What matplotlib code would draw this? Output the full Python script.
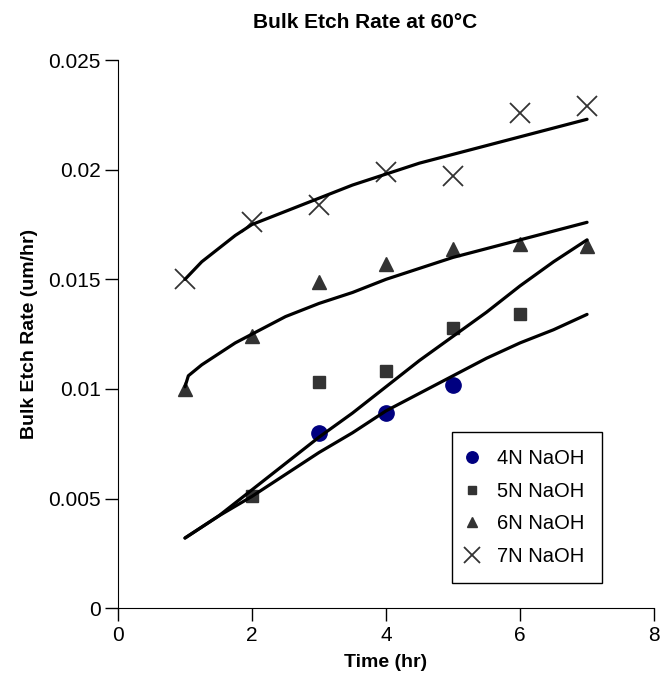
import matplotlib
matplotlib.use("Agg")
import matplotlib.pyplot as plt

plt.rcParams['font.family'] = ['Liberation Sans', 'DejaVu Sans']

# measured points
t4 = [3, 4, 5]
r4 = [0.0080, 0.0089, 0.0102]
t5 = [2, 3, 4, 5, 6]
r5 = [0.0051, 0.0103, 0.0108, 0.0128, 0.0134]
t6 = [1, 2, 3, 4, 5, 6, 7]
r6 = [0.0100, 0.0124, 0.0149, 0.0157, 0.0164, 0.0166, 0.0165]
t7 = [1, 2, 3, 4, 5, 6, 7]
r7 = [0.0150, 0.0176, 0.0184, 0.0199, 0.0197, 0.0226, 0.0229]

# fitted curves
tc = [1, 1.5, 2, 2.5, 3, 3.5, 4, 4.5, 5, 5.5, 6, 6.5, 7]
c4 = [0.0032, 0.0042, 0.0051, 0.0061, 0.0071, 0.0080, 0.0090, 0.0098, 0.0106, 0.0114, 0.0121, 0.0127, 0.0134]
c5 = [0.0032, 0.0042, 0.0054, 0.0066, 0.0078, 0.0089, 0.0101, 0.0113, 0.0124, 0.0135, 0.0147, 0.0158, 0.0168]
tc6 = [1, 1.05, 1.25, 1.5, 1.75, 2, 2.5, 3, 3.5, 4, 4.5, 5, 5.5, 6, 6.5, 7]
c6 = [0.0101, 0.0106, 0.0111, 0.0116, 0.0121, 0.0125, 0.0133, 0.0139, 0.0144, 0.0150, 0.0155, 0.0160, 0.0164, 0.0168, 0.0172, 0.0176]
tc7 = [1, 1.25, 1.5, 1.75, 2, 2.5, 3, 3.5, 4, 4.5, 5, 5.5, 6, 6.5, 7]
c7 = [0.0150, 0.0158, 0.0164, 0.0170, 0.0175, 0.0181, 0.0187, 0.0193, 0.0198, 0.0203, 0.0207, 0.0211, 0.0215, 0.0219, 0.0223]

fig = plt.figure(figsize=(6.61, 6.75), dpi=100)
ax = fig.add_axes([0.1785, 0.099, 0.811, 0.812])

for x, y in [(tc, c4), (tc, c5), (tc6, c6), (tc7, c7)]:
    ax.plot(x, y, color='black', lw=2.3, zorder=3, solid_capstyle='round')

ax.plot(t4, r4, 'o', color='#000080', ms=11, ls='none', label='4N NaOH', zorder=2)
ax.plot(t5, r5, 's', color='#333333', ms=8.5, ls='none', label='5N NaOH', zorder=2)
ax.plot(t6, r6, '^', color='#333333', ms=9.5, ls='none', label='6N NaOH', zorder=2)
ax.plot(t7, r7, 'x', color='#333333', ms=15, mew=1.3, ls='none', label='7N NaOH', zorder=2)

ax.set_xlim(0, 8)
ax.set_ylim(0, 0.025)
ax.set_xticks([0, 2, 4, 6, 8])
ax.set_yticks([0, 0.005, 0.01, 0.015, 0.02, 0.025])
ax.set_yticklabels(['0', '0.005', '0.01', '0.015', '0.02', '0.025'])
ax.spines['top'].set_visible(False)
ax.spines['right'].set_visible(False)
ax.tick_params(direction='out', length=9.5, width=1, labelsize=15, pad=3)
ax.set_xlabel('Time (hr)', fontsize=14, fontweight='bold', labelpad=7)
ax.set_ylabel('Bulk Etch Rate (um/hr)', fontsize=14, fontweight='bold', labelpad=7)
fig.text(365 / 661, 1 - 23 / 675, 'Bulk Etch Rate at 60\u00b0C', fontsize=15,
         fontweight='bold', ha='center', va='center')

leg = ax.legend(loc='lower left', bbox_to_anchor=(0.623, 0.0456), borderaxespad=0,
                fontsize=14.5, fancybox=False, framealpha=1, edgecolor='black',
                borderpad=0.85, labelspacing=0.68, handlelength=0.3, handletextpad=1.1,
                markerscale=0.75)
leg.get_frame().set_linewidth(1)

fig.savefig('out.png', dpi=100)
